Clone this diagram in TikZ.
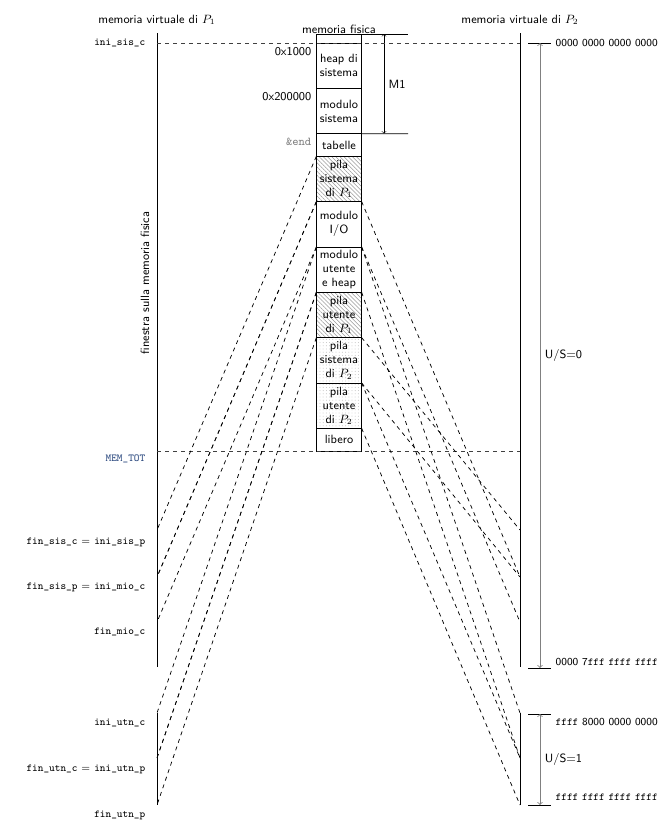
\documentclass[tikz,border=0pt]{standalone}
\usepackage{fontspec}
\usetikzlibrary{patterns.meta}

\definecolor{blutot}{RGB}{40,70,125}

\tikzset{
  blocco/.style={draw, semithick, minimum width=34pt, minimum height=34pt,
    inner sep=1pt, outer sep=0pt, align=center,
    font=\fontsize{9}{10.5}\selectfont\sffamily},
  mezzo/.style={blocco, minimum height=17pt},
  righe/.style={pattern={Lines[angle=-45, distance=2.2pt, line width=0.4pt]}, pattern color=gray!80},
  punti/.style={pattern={Dots[distance=2.4pt, radius=0.35pt]}, pattern color=gray!55},
  proiez/.style={dashed, line width=0.55pt},
  soglia/.style={dashed, semithick, black!75},
  asse/.style={semithick},
  misura/.style={<->, semithick, gray},
  testo/.style={font=\small\sffamily},
  indir/.style={font=\footnotesize\sffamily},
  etic/.style={font=\footnotesize\ttfamily}
}

\begin{document}
\begin{tikzpicture}[x=0.75pt, y=-0.75pt]
    \useasboundingbox (0,0) rectangle (670,829);

    \node[blocco] (heap) at (339,65.67) {heap di\\sistema};
    \node[blocco] (modsis) at (339,111) {modulo\\sistema};
    \node[mezzo] (tabelle) at (339,145) {tabelle};
    \node[blocco, righe] (sisP1) at (339,179) {pila\\sistema\\di $P_1$};
    \node[blocco] (modio) at (339,224.33) {modulo\\I/O};
    \node[blocco] (modutn) at (339,269.67) {modulo\\utente\\e heap};
    \node[blocco, righe] (utnP1) at (339,315) {pila\\utente\\di $P_1$};
    \node[blocco, punti] (sisP2) at (339,360.33) {pila\\sistema\\di $P_2$};
    \node[blocco, punti] (utnP2) at (339,405.67) {pila\\utente\\di $P_2$};
    \node[mezzo] (libero) at (339,439.67) {libero};

    \coordinate (m1su) at (408,34) ;
    \coordinate (m1giu) at (408,133.67) ;
    \draw[semithick] (heap.north west) -- (heap.north west |- m1su) -- (m1su) ;
    \draw[semithick] (heap.north east) -- (heap.north east |- m1su) ;
    \draw[semithick] (tabelle.north east) -- (m1giu) ;
    \coordinate (m1a) at (384,34) ;
    \coordinate (m1b) at (384,133.67) ;
    \draw[<->] (m1a) -- (m1b) node[midway, right, testo] (m1) {M1} ;

    \node[testo, anchor=base] (mf) at (339,33) {memoria fisica} ;
    \node[testo] (mvP1) at (157,20) {memoria virtuale di $P_1$} ;
    \node[testo] (mvP2) at (520,20) {memoria virtuale di $P_2$} ;

    \draw[left, testo] (316,52) node (a1000) {0x1000} ;
    \draw[left, testo] (316,97) node (a200000) {0x200000} ;
    \draw[left, etic, gray] (316,142) node (aend) {\small\&end} ;

    \coordinate (sxtop) at (157,33) ;
    \coordinate (sxbot) at (157,667) ;
    \coordinate (isc) at (157,43) ;
    \coordinate (mtot) at (157,451) ;
    \coordinate (fsc) at (157,530) ;
    \coordinate (fsp) at (157,577) ;
    \coordinate (fmc) at (157,622) ;
    \coordinate (iuc) at (157,713) ;
    \coordinate (fuc) at (157,758) ;
    \coordinate (fup) at (157,805) ;
    \draw[asse] (sxtop) -- (sxbot) ;
    \draw[asse] (iuc) -- (fup) ;

    \coordinate (dxtop) at (520,33) ;
    \coordinate (dxbot) at (520,667) ;
    \coordinate (iscd) at (520,43) ;
    \coordinate (mtotd) at (520,451) ;
    \coordinate (fscd) at (520,530) ;
    \coordinate (fspd) at (520,577) ;
    \coordinate (fmcd) at (520,622) ;
    \coordinate (iucd) at (520,713) ;
    \coordinate (fucd) at (520,758) ;
    \coordinate (fupd) at (520,805) ;
    \draw[asse] (dxtop) -- (dxbot) ;
    \draw[asse] (iucd) -- (fupd) ;

    \draw[soglia] (isc) -- (iscd) ;
    \draw[soglia] (mtot) -- (mtotd) ;

    \draw[proiez] (sisP1.north west) -- (fsc) ;
    \draw[proiez] (sisP1.south west) -- (fsp) ;
    \draw[proiez] (modio.north west) -- (fsp) ;
    \draw[proiez] (modio.south west) -- (fmc) ;
    \draw[proiez] (modutn.north west) -- (iuc) ;
    \draw[proiez] (modutn.south west) -- (fuc) ;
    \draw[proiez] (utnP1.north west) -- (fuc) ;
    \draw[proiez] (utnP1.south west) -- (fup) ;

    \draw[proiez] (sisP2.north east) -- (fscd) ;
    \draw[proiez] (sisP2.south east) -- (fspd) ;
    \draw[proiez] (modio.north east) -- (fspd) ;
    \draw[proiez] (modio.south east) -- (fmcd) ;
    \draw[proiez] (modutn.north east) -- (iucd) ;
    \draw[proiez] (modutn.south east) -- (fucd) ;
    \draw[proiez] (utnP2.north east) -- (fucd) ;
    \draw[proiez] (utnP2.south east) -- (fupd) ;

    \draw[left, etic] (150,43) node (lisc) {ini\_sis\_c} ;
    \draw[left, etic] (150,459) node (lmtot) {\color{blutot}MEM\_TOT} ;
    \draw[left, etic] (150,542) node (lfsc) {fin\_sis\_c\hspace{3pt}$=$\hspace{3pt}ini\_sis\_p} ;
    \draw[left, etic] (150,587) node (lfsp) {fin\_sis\_p\hspace{3pt}$=$\hspace{3pt}ini\_mio\_c} ;
    \draw[left, etic] (150,632) node (lfmc) {fin\_mio\_c} ;
    \draw[left, etic] (150,723) node (liuc) {ini\_utn\_c} ;
    \draw[left, etic] (150,769) node (lfuc) {fin\_utn\_c\hspace{3pt}$=$\hspace{3pt}ini\_utn\_p} ;
    \draw[left, etic] (150,815) node (lfup) {fin\_utn\_p} ;

    \node[testo, rotate=90] (finestra) at (145,283) {finestra sulla memoria fisica} ;

    \coordinate (us0a) at (540,43) ;
    \coordinate (us0b) at (540,668) ;
    \coordinate (us1a) at (540,714) ;
    \coordinate (us1b) at (540,805) ;
    \draw (528,43) -- (551,43) ;
    \draw (528,668) -- (551,668) ;
    \draw (528,714) -- (551,714) ;
    \draw (528,805) -- (551,805) ;
    \draw[misura] (us0a) -- (us0b) node[midway, right, testo, black] (us0) {U/S=0} ;
    \draw[misura] (us1a) -- (us1b) node[midway, right, testo, black] (us1) {U/S=1} ;

    \draw[right, indir] (551,43) node (h0) {0000 0000 0000 0000} ;
    \draw[right, indir] (551,662) node (h1) {0000 7\texttt{fff} \texttt{ffff} \texttt{ffff}} ;
    \draw[right, indir] (551,722) node (h2) {\texttt{ffff} 8000 0000 0000} ;
    \draw[right, indir] (551,797) node (h3) {\texttt{ffff} \texttt{ffff} \texttt{ffff} \texttt{ffff}} ;
  \end{tikzpicture}
\end{document}
